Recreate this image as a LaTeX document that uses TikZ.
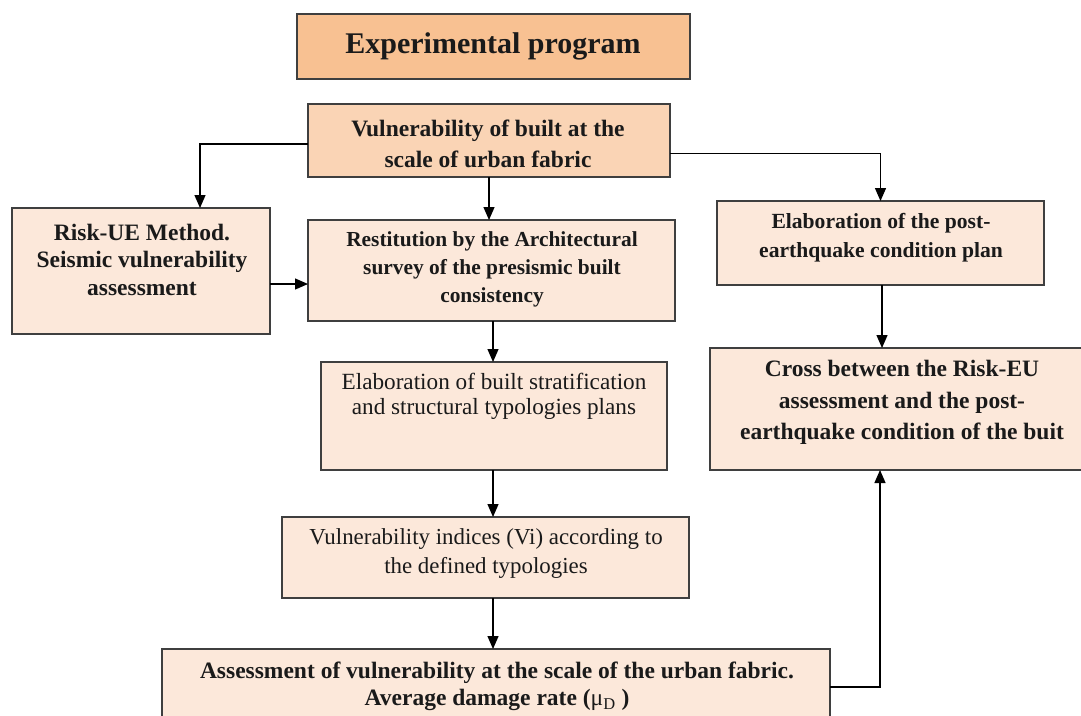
\documentclass[tikz,border=0pt]{standalone}
\usepackage{fontspec}
\setmainfont{Liberation Serif}
\usetikzlibrary{arrows.meta,calc}
\definecolor{titlefill}{HTML}{F8C192}
\definecolor{topfill}{HTML}{FAD4B5}
\definecolor{boxfill}{HTML}{FCE8DA}
\definecolor{edge}{HTML}{3F3F3F}
\definecolor{ink}{HTML}{1A1A1A}
\begin{document}
\begin{tikzpicture}[x=1pt,y=-1pt,
  box/.style={draw=edge, line width=1.4pt, fill=boxfill, inner sep=0pt, outer sep=0pt},
  txt/.style={align=center, text=ink, inner sep=0pt},
  arr/.style={draw=black, line width=1.3pt, -{Triangle[length=13pt,width=11pt]}},
  plain/.style={draw=black, line width=1.3pt}
]
\useasboundingbox (0,0) rectangle (1081,715);
\clip (0,0) rectangle (1081,715);

% boxes
\node[box, fill=titlefill, minimum width=393pt, minimum height=65pt] (title) at (493.5,46.5) {};
\node[box, fill=topfill, minimum width=362pt, minimum height=73pt] (vuln) at (489,140.5) {};
\node[box, minimum width=258pt, minimum height=126pt] (risk) at (141,271) {};
\node[box, minimum width=367pt, minimum height=101pt] (rest) at (491.5,270.5) {};
\node[box, minimum width=327pt, minimum height=84pt] (post) at (880.5,243) {};
\node[box, minimum width=376pt, minimum height=122pt] (cross) at (898,409) {};
\node[box, minimum width=346pt, minimum height=108pt] (strat) at (494,416) {};
\node[box, minimum width=407pt, minimum height=81pt] (vi) at (485.5,557.5) {};
\node[box, minimum width=668pt, minimum height=73pt] (assess) at (496,685.5) {};

% texts
\node[txt, font=\fontsize{30}{36}\selectfont\bfseries] (title-t) at (493,46) {Experimental program};
\node[txt, font=\fontsize{23.5}{31}\selectfont\bfseries] (vuln-t) at (488,143.5) {Vulnerability of built at the\\scale of urban fabric};
\node[txt, font=\fontsize{23.5}{27.5}\selectfont\bfseries] (risk-t) at (142,259.5) {Risk-UE Method.\\Seismic vulnerability\\assessment};
\node[txt, font=\fontsize{21.4}{28}\selectfont\bfseries] (rest-t) at (492,269) {Restitution by the Architectural\\survey of the presismic built\\consistency};
\node[txt, font=\fontsize{21.6}{29}\selectfont\bfseries] (post-t) at (881,237.5) {Elaboration of the post-\\earthquake condition plan};
\node[txt, font=\fontsize{23.5}{31.5}\selectfont\bfseries] (cross-t) at (902,402.5) {Cross between the Risk-EU\\assessment and the post-\\earthquake condition of the buit};
\node[txt, font=\fontsize{23.2}{25}\selectfont] (strat-t) at (494,396.5) {Elaboration of built stratification\\and structural typologies plans};
\node[txt, font=\fontsize{22.9}{29}\selectfont] (vi-t) at (486,553.5) {Vulnerability indices (Vi) according to\\the defined typologies};
\node[txt, font=\fontsize{23.5}{27}\selectfont\bfseries] (assess-t) at (497,686.5) {Assessment of vulnerability at the scale of the urban fabric.\\Average damage rate (\mdseries μ\textsubscript{D}\bfseries\ )};

% connectors
\draw[arr] ([yshift=-3.5pt]vuln.west) -| ([xshift=59pt]risk.north);
\draw[arr] (vuln.south) -- (vuln.south |- rest.north);
\draw[arr] ([yshift=-13pt]vuln.east) -| (post.north);
\draw[arr] ([yshift=-13pt]risk.east) -- ([yshift=-13pt]risk.east -| rest.west);
\draw[arr] ([xshift=1.5pt]rest.south) -- ([xshift=1.5pt]rest.south |- strat.north);
\draw[arr] ([xshift=-1pt]strat.south) -- ([xshift=-1pt]strat.south |- vi.north);
\draw[arr] ([xshift=7.5pt]vi.south) -- ([xshift=7.5pt]vi.south |- assess.north);
\draw[arr] ([xshift=1.5pt]post.south) -- ([xshift=1.5pt]post.south |- cross.north);
\draw[arr] ([yshift=-1.5pt]assess.east) -| ([xshift=-18pt]cross.south);
\end{tikzpicture}
\end{document}
